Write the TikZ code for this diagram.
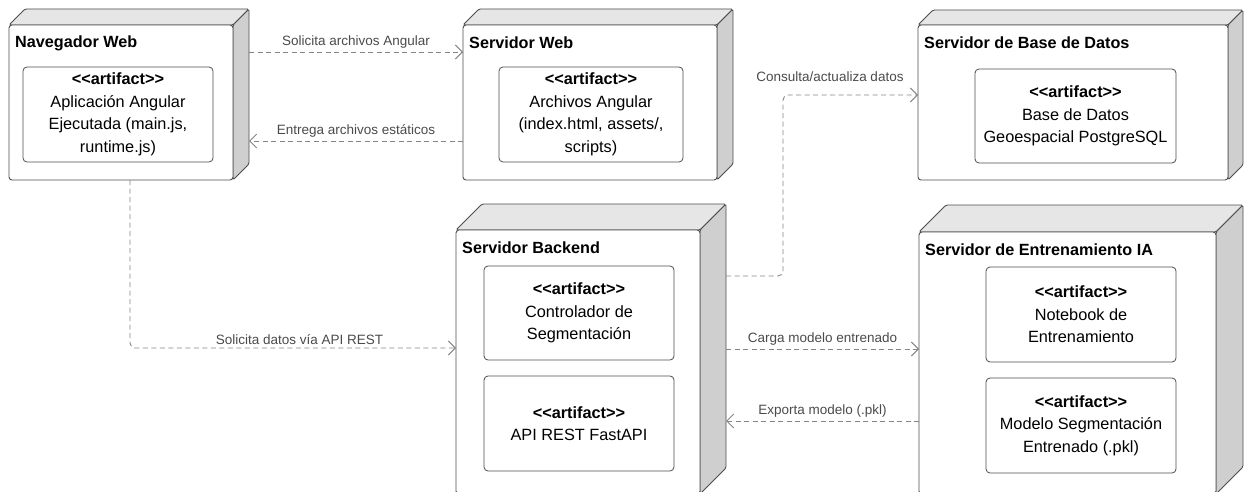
\documentclass[tikz,border=0pt]{standalone}
\usepackage{fontspec}
\setmainfont{Liberation Sans}
\usetikzlibrary{arrows.meta,calc}
\definecolor{bordercol}{HTML}{4D4D4D}
\definecolor{linecol}{HTML}{858585}
\definecolor{lblcol}{HTML}{4A4A4A}
\definecolor{topcol}{HTML}{E6E6E6}
\definecolor{sidecol}{HTML}{CFCFCF}
\tikzset{
  face/.style={draw=bordercol, line width=0.9pt, line join=round, rounded corners=1.5pt},
  topface/.style={face, fill=topcol},
  sideface/.style={face, fill=sidecol},
  frontbox/.style={draw=bordercol, fill=white, line width=0.9pt, rounded corners=3pt, inner sep=0pt, outer sep=0pt},
  nodetitle/.style={font=\fontsize{16.2}{18}\selectfont\bfseries, inner sep=0pt, anchor=west},
  art/.style={draw=bordercol, fill=white, line width=0.8pt, rounded corners=4pt, align=center, inner sep=0pt, outer sep=0pt,
    font=\fontsize{16.3}{22.5}\selectfont},
  dep/.style={draw=linecol, line width=0.9pt, dash pattern=on 5pt off 3.5pt, -{Straight Barb[length=7pt,width=14pt,line width=0.9pt]}},
  lbl/.style={font=\fontsize{13.5}{15}\selectfont, text=lblcol, inner sep=1pt}
}
% name, x1, y1, x2, y2, depth, title
\newcommand\udnode[7]{%
  \path[topface] (#2,#3) -- ({#2+#6},{#3-#6}) -- ({#4+#6},{#3-#6}) -- (#4,#3) -- cycle;
  \path[sideface] (#4,#3) -- ({#4+#6},{#3-#6}) -- ({#4+#6},{#5-#6}) -- (#4,#5) -- cycle;
  \node[frontbox, minimum width={#4pt-#2pt}, minimum height={#5pt-#3pt}] (#1) at ({(#2+#4)/2},{(#3+#5)/2}) {};
  \node[nodetitle] (#1title) at ({#2+6},{#3+18}) {#7};
}
\newcommand\artstereo{\textbf{<{}<artifact>{}>}}
\begin{document}
\begin{tikzpicture}[x=1pt,y=-1pt]
\useasboundingbox (0,0) rectangle (1245,492);
% nodes
\udnode{nav}{9}{25}{233}{180}{16}{Navegador Web}
\udnode{web}{463}{25}{717}{180}{16}{Servidor Web}
\udnode{db}{918}{25}{1228}{180}{15}{Servidor de Base de Datos}
\udnode{back}{456}{230}{700}{494}{26}{Servidor Backend}
\udnode{train}{919}{232}{1216}{494}{27}{Servidor de Entrenamiento IA}
% artifacts
\node[art, minimum width=190pt, minimum height=95pt] (navart) at (118,114.5)
  {\artstereo\\Aplicación Angular\\Ejecutada (main.js,\\runtime.js)};
\node[art, minimum width=184pt, minimum height=95pt] (webart) at (591,114.5)
  {\artstereo\\Archivos Angular\\(index.html, assets/,\\scripts)};
\node[art, minimum width=201pt, minimum height=94pt] (dbart) at (1075.5,116)
  {\artstereo\\Base de Datos\\Geoespacial PostgreSQL};
\node[art, minimum width=190pt, minimum height=94pt] (ctrlart) at (579,313)
  {\artstereo\\Controlador de\\Segmentación};
\node[art, minimum width=190pt, minimum height=95pt] (apiart) at (579,423.5)
  {\artstereo\\API REST FastAPI};
\node[art, minimum width=190pt, minimum height=95pt] (nbart) at (1081,314.5)
  {\artstereo\\Notebook de\\Entrenamiento};
\node[art, minimum width=190pt, minimum height=95pt] (modart) at (1081,425.5)
  {\artstereo\\Modelo Segmentación\\Entrenado (.pkl)};
% connectors
\draw[dep] ([xshift=16pt,yshift=-27pt]nav.north east) -- node[lbl, above=2pt] {Solicita archivos Angular} ([yshift=-27pt]web.north west);
\draw[dep] ([yshift=-116pt]web.north west) -- node[lbl, above=2pt] {Entrega archivos estáticos} ([xshift=16pt,yshift=-116pt]nav.north east);
\draw[dep, rounded corners=5pt] ([xshift=9pt]nav.south) |- node[lbl, above=2pt, pos=0.76] {Solicita datos vía API REST} ([yshift=-118pt]back.north west);
\draw[dep, rounded corners=5pt] ([xshift=26pt,yshift=-46pt]back.north east) -- ++(57,0) |- ([yshift=-70pt]db.north west);
\node[lbl] (lblconsulta) at (830,77) {Consulta/actualiza datos};
\draw[dep] ([xshift=26pt,yshift=-119pt]back.north east) -- node[lbl, above=2pt] {Carga modelo entrenado} ([yshift=-117pt]train.north west);
\draw[dep] ([yshift=-189pt]train.north west) -- node[lbl, above=2pt] {Exporta modelo (.pkl)} ([xshift=26pt,yshift=-191pt]back.north east);
\end{tikzpicture}
\end{document}
